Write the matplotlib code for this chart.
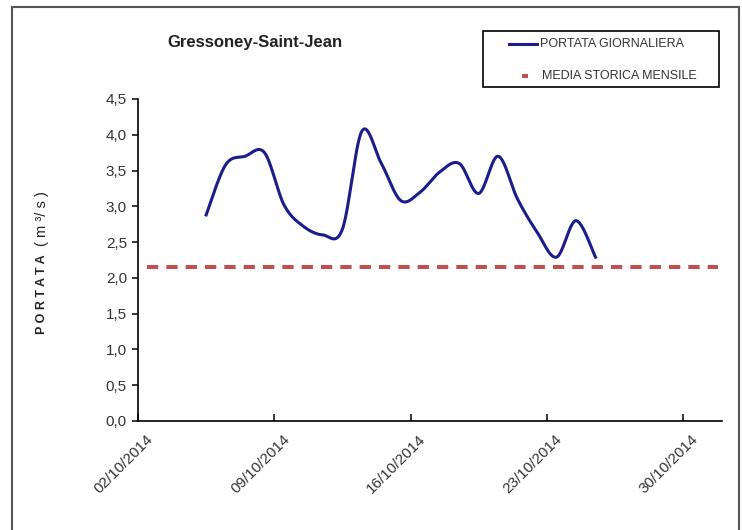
import numpy as np
import matplotlib
matplotlib.use("Agg")
import matplotlib.pyplot as plt
import matplotlib.dates as mdates
import matplotlib.transforms as mtransforms
from matplotlib.lines import Line2D
from matplotlib.patches import Rectangle
from datetime import datetime, timedelta

plt.rcParams['font.family'] = ['Liberation Sans', 'DejaVu Sans']

# daily flow (m3/s), 05/10/2014 .. 25/10/2014
dates = [datetime(2014, 10, d) for d in range(5, 26)]
portata = [2.88, 3.58, 3.70, 3.75, 3.02, 2.72, 2.60, 2.68, 4.05, 3.60, 3.08,
           3.20, 3.48, 3.60, 3.18, 3.70, 3.10, 2.64, 2.29, 2.80, 2.29]
media_storica = 2.15
tick_dates = [datetime(2014, 10, d) for d in (2, 9, 16, 23, 30)]
x_start = datetime(2014, 10, 2)
x_end = datetime(2014, 11, 1)


def smooth(xs, ys, n=30):
    # excel-like smoothed line (catmull-rom bezier through the points)
    xs = np.asarray(xs, float)
    ys = np.asarray(ys, float)
    px = np.concatenate([[xs[0]], xs, [xs[-1]]])
    py = np.concatenate([[ys[0]], ys, [ys[-1]]])
    t = np.linspace(0, 1, n)[:, None]
    outx, outy = [], []
    for i in range(1, len(px) - 2):
        p0 = np.array([px[i], py[i]])
        p3 = np.array([px[i + 1], py[i + 1]])
        c1 = p0 + (p3 - np.array([px[i - 1], py[i - 1]])) / 6
        c2 = p3 - (np.array([px[i + 2], py[i + 2]]) - p0) / 6
        pts = ((1 - t) ** 3) * p0 + 3 * ((1 - t) ** 2) * t * c1 + 3 * (1 - t) * t ** 2 * c2 + t ** 3 * p3
        outx.extend(pts[:, 0])
        outy.extend(pts[:, 1])
    return np.array(outx), np.array(outy)


xnum = mdates.date2num([d + timedelta(hours=12) for d in dates])
sx, sy = smooth(xnum, portata)

fig = plt.figure(figsize=(7.42, 5.30), dpi=100)
ax = fig.add_axes([138 / 742, 1 - 421 / 530, 584 / 742, 322 / 530])

BLUE = '#1C1C8C'
RED = '#C0504D'

ax.plot([mdates.date2num(x_start) + 0.45, mdates.date2num(x_end) - 0.2], [media_storica, media_storica],
        color=RED, lw=2.9, dashes=(2.8, 2.0), solid_capstyle='butt')
ax.plot(sx, sy, color=BLUE, lw=2.2)

ax.set_xlim(mdates.date2num(x_start), mdates.date2num(x_end))
ax.set_ylim(0, 4.5)
ax.set_yticks(np.arange(0, 4.51, 0.5))
ax.set_yticklabels([f"{v:.1f}".replace('.', ',') for v in np.arange(0, 4.51, 0.5)])
ax.set_xticks(mdates.date2num(tick_dates))
ax.set_xticklabels([])

# rotated date labels, placed by hand so their end sits right of the tick like excel does
shift = mtransforms.ScaledTranslation(8 / 100, -11 / 100, fig.dpi_scale_trans)
for d in tick_dates:
    ax.text(mdates.date2num(d), 0, d.strftime('%d/%m/%Y'), rotation=45, rotation_mode='anchor',
            ha='right', va='top', fontsize=11, color='#333333',
            transform=ax.get_xaxis_transform() + shift, clip_on=False)

for s in ('top', 'right'):
    ax.spines[s].set_visible(False)
for s in ('left', 'bottom'):
    ax.spines[s].set_linewidth(1.2)
ax.tick_params(axis='y', direction='out', length=4, width=1.1, labelsize=11, labelcolor='#333333', pad=4)
ax.tick_params(axis='x', direction='in', length=5, width=1.1)

fig.text(255 / 742, 1 - 42 / 530, 'Gressoney-Saint-Jean', fontsize=12, fontweight='bold',
         ha='center', va='center', color='#222222')

fig.text(42 / 742, 1 - 294 / 530, 'P O R T A T A', rotation=90, fontsize=9, fontweight='bold',
         ha='center', va='center', color='#222222')
fig.text(42 / 742, 1 - 219 / 530, '( m ³/ s )', rotation=90, fontsize=10.5,
         ha='center', va='center', color='#222222')

# legend box drawn by hand
W, H = 742, 530
fig.add_artist(Rectangle((483 / W, 1 - 87 / H), (719 - 483) / W, (87 - 31) / H,
                         transform=fig.transFigure, fill=False, edgecolor='black', lw=1.2))
fig.add_artist(Line2D([509 / W, 537 / W], [1 - 44 / H, 1 - 44 / H], color=BLUE, lw=2.2,
                      transform=fig.transFigure))
fig.add_artist(Line2D([522 / W, 528 / W], [1 - 76 / H, 1 - 76 / H], color=RED, lw=2.9,
                      transform=fig.transFigure, solid_capstyle='butt'))
fig.text(540 / W, 1 - 44 / H, 'PORTATA GIORNALIERA', fontsize=9, ha='left', va='center', color='#333333')
fig.text(542 / W, 1 - 76 / H, 'MEDIA STORICA MENSILE', fontsize=9, ha='left', va='center', color='#333333')

fig.add_artist(Rectangle((12 / W, -0.05), (739 - 12) / W, 1.05 - 7 / H,
                         transform=fig.transFigure, fill=False, edgecolor='#555555', lw=1.5))

fig.savefig('out.png', dpi=100, facecolor='white')
